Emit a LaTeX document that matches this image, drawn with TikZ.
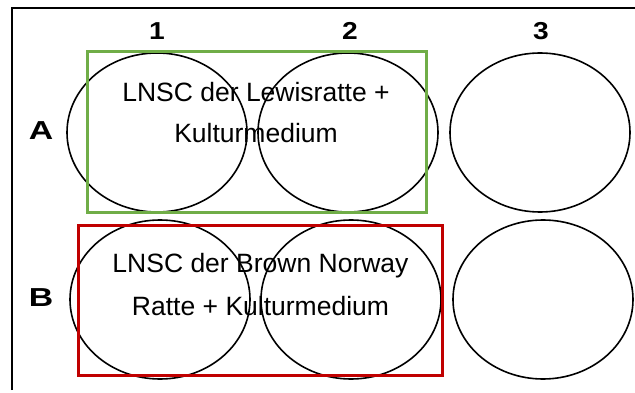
\documentclass[tikz,border=0pt]{standalone}
\usepackage{fontspec}
\setmainfont{Liberation Sans}
\usetikzlibrary{shapes.geometric}
\definecolor{groupgreen}{RGB}{112,173,71}
\definecolor{groupred}{RGB}{192,0,0}
\newcommand{\widelabel}[2]{\scalebox{#1}[1]{#2}}
\tikzset{
  well/.style={draw=black, line width=1.6pt, ellipse, inner sep=0pt,
               minimum width=180pt, minimum height=159pt},
  frame/.style={draw=black, line width=2pt},
  group/.style={line width=3pt},
  coltext/.style={font=\fontsize{24.5}{24.5}\selectfont\bfseries, anchor=base, inner sep=0pt},
  rowtext/.style={font=\fontsize{26}{26}\selectfont\bfseries, anchor=base, inner sep=0pt},
  wtext/.style={font=\fontsize{26.5}{26.5}\selectfont, anchor=base, inner sep=0pt},
}
\begin{document}
\begin{tikzpicture}[x=1pt, y=-1pt]
  \useasboundingbox (0,0) rectangle (635,393);
  % plate outline (top and left edges)
  \draw[frame] (12,390) -- (12,8) -- (635,8);

  % wells
  \node[well] (wA1) at (157,132.5) {};
  \node[well] (wA2) at (348,132.5) {};
  \node[well] (wA3) at (540,132.5) {};
  \node[well] (wB1) at (160,299.5) {};
  \node[well] (wB2) at (351,299.5) {};
  \node[well] (wB3) at (543,299.5) {};

  % column and row labels
  \node[coltext] (c1) at (157,40) {\widelabel{1.15}{1}};
  \node[coltext] (c2) at (350,40) {\widelabel{1.15}{2}};
  \node[coltext] (c3) at (541,40) {\widelabel{1.15}{3}};
  \node[rowtext] (rA) at (41,140) {\widelabel{1.3}{A}};
  \node[rowtext] (rB) at (41,306) {\widelabel{1.3}{B}};

  % treatment groups
  \draw[group, draw=groupgreen] (87,52) rectangle (426,213);
  \draw[group, draw=groupred] (78,225) rectangle (442,375);

  \node[wtext] (gA1) at (256,102) {LNSC der Lewisratte +};
  \node[wtext] (gA2) at (256,143) {Kulturmedium};
  \node[wtext] (gB1) at (260.5,272) {LNSC der Brown Norway};
  \node[wtext] (gB2) at (260.5,315) {Ratte + Kulturmedium};
\end{tikzpicture}
\end{document}
